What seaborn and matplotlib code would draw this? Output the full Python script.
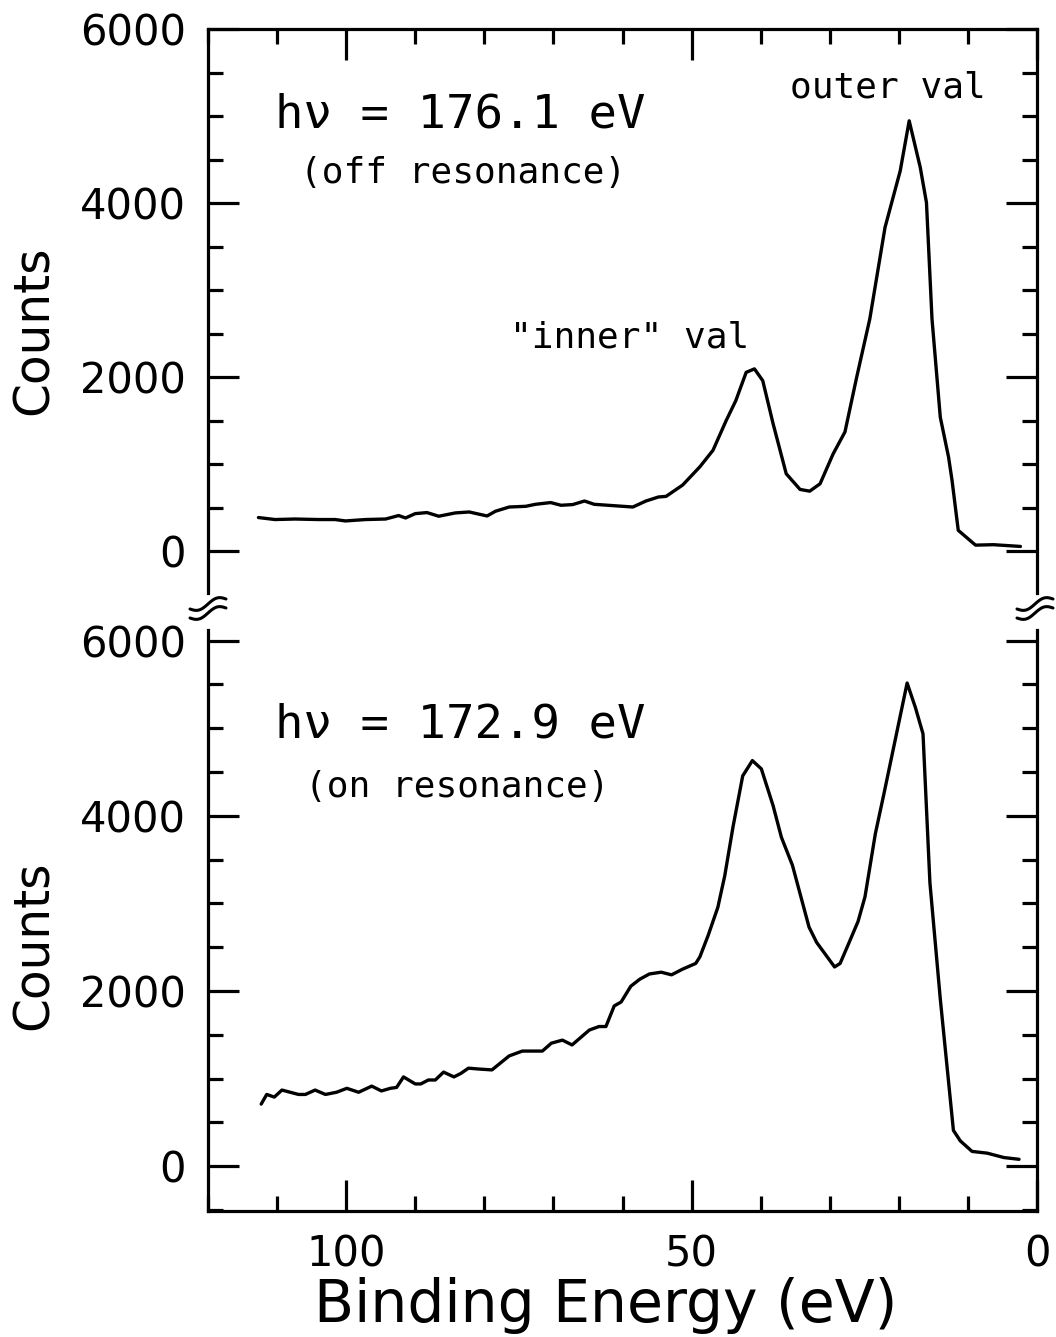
import numpy as np
import pandas as pd
import matplotlib
matplotlib.use("Agg")
import matplotlib.pyplot as plt
from matplotlib.lines import Line2D
from matplotlib.ticker import MultipleLocator, FixedLocator
import seaborn as sns

# ---- data ----
off_energy = [112.7, 110.3, 107.4, 104.0, 101.6, 100.1, 97.2, 94.3, 92.4, 91.4, 90.0, 88.3,
              86.6, 84.2, 82.2, 79.6, 78.4, 76.4, 74.0, 72.6, 70.4, 68.9, 67.2, 65.5, 64.1,
              61.4, 58.5, 56.6, 54.8, 53.7, 51.3, 48.8, 46.9, 45.0, 43.6, 42.1, 40.9, 39.7,
              38.2, 36.3, 34.3, 32.9, 31.4, 29.5, 27.8, 26.1, 24.2, 22.0, 19.8, 18.5, 16.9,
              16.0, 15.2, 14.0, 12.8, 12.3, 11.4, 8.9, 6.3, 2.4]
off_counts = [387, 364, 370, 364, 364, 348, 364, 370, 410, 382, 432, 444,
              402, 440, 451, 405, 459, 508, 516, 539, 559, 528, 536, 577, 539,
              524, 508, 577, 623, 630, 760, 970, 1160, 1500, 1730, 2055, 2095, 1960,
              1465, 890, 710, 690, 775, 1120, 1370, 2000, 2670, 3720, 4370, 4945, 4410,
              4005, 2670, 1540, 1080, 815, 240, 70, 75, 55]

on_energy = [112.3, 111.5, 110.4, 109.3, 106.9, 105.9, 104.5, 103.0, 101.4, 99.9, 98.2, 96.3,
             94.9, 93.6, 92.7, 91.7, 90.0, 89.2, 88.1, 87.1, 85.9, 84.4, 83.4, 82.3, 80.8,
             78.9, 76.4, 74.5, 71.6, 70.3, 68.7, 67.3, 64.8, 63.4, 62.4, 61.2, 60.2, 58.8,
             57.5, 56.1, 54.4, 52.9, 51.3, 49.4, 48.8, 47.6, 46.2, 45.2, 44.0, 42.6, 41.2,
             39.9, 38.2, 37.0, 35.4, 33.0, 31.9, 29.3, 28.5, 27.3, 25.9, 24.9, 23.4, 22.2,
             20.5, 18.8, 17.6, 16.5, 15.5, 14.0, 12.1, 11.1, 9.4, 7.2, 4.8, 2.6]
on_counts = [710, 820, 790, 870, 820, 820, 870, 820, 845, 890, 845, 915,
             860, 890, 900, 1020, 940, 940, 985, 985, 1075, 1020, 1060, 1120, 1110,
             1100, 1260, 1315, 1315, 1405, 1440, 1385, 1555, 1595, 1595, 1830, 1875, 2055,
             2135, 2195, 2215, 2185, 2250, 2315, 2390, 2635, 2955, 3315, 3875, 4455, 4630,
             4535, 4115, 3755, 3435, 2730, 2555, 2275, 2315, 2535, 2795, 3075, 3795, 4235,
             4875, 5515, 5235, 4935, 3235, 1910, 410, 290, 170, 150, 100, 80]

x_major = [0, 50, 100]
x_tick_labels = ["0", "50", "100"]
y_major = [0, 2000, 4000, 6000]
y_tick_labels = ["0", "2000", "4000", "6000"]

top_title = "h\u03bd = 176.1 eV"
top_sub = "(off resonance)"
bot_title = "h\u03bd = 172.9 eV"
bot_sub = "(on resonance)"
lab_outer = "outer val"
lab_inner = "\"inner\" val"

df_off = pd.DataFrame({"energy": off_energy, "counts": off_counts})
df_on = pd.DataFrame({"energy": on_energy, "counts": on_counts})

sns.set_style("white")
plt.rcParams["font.family"] = ["DejaVu Sans"]
plt.rcParams.update({"text.color": "black", "axes.labelcolor": "black",
                     "xtick.color": "black", "ytick.color": "black",
                     "axes.edgecolor": "black"})

W, H = 1056, 1337
fig = plt.figure(figsize=(W / 100, H / 100), dpi=100)

def fx(px):
    return px / W

def fy(py):
    return 1 - py / H

L, R = 208, 1037
ax1 = fig.add_axes([fx(L), fy(593), fx(R) - fx(L), fy(29) - fy(593)])
ax2 = fig.add_axes([fx(L), fy(1211), fx(R) - fx(L), fy(630) - fy(1211)])

lw = 2.4
sns.lineplot(data=df_off, x="energy", y="counts", ax=ax1, color="black", linewidth=lw,
             estimator=None, sort=False)
sns.lineplot(data=df_on, x="energy", y="counts", ax=ax2, color="black", linewidth=lw,
             estimator=None, sort=False)

ax1.set_ylim(-480, 6000)
ax2.set_ylim(-510, 6120)

for ax in (ax1, ax2):
    ax.set_xlim(120, 0)
    ax.xaxis.set_major_locator(FixedLocator(x_major))
    ax.xaxis.set_minor_locator(MultipleLocator(10))
    ax.yaxis.set_major_locator(FixedLocator(y_major))
    ax.yaxis.set_minor_locator(MultipleLocator(500))
    ax.set_yticklabels(y_tick_labels)
    for s in ax.spines.values():
        s.set_linewidth(2.3)
        s.set_color("black")
    ax.tick_params(axis="both", which="major", direction="in", length=22, width=2.3,
                   labelsize=30, pad=16, color="black", labelcolor="black")
    ax.tick_params(axis="both", which="minor", direction="in", length=11, width=2.3,
                   color="black")
    ax.tick_params(axis="y", which="both", left=True, right=True, labelleft=True,
                   labelright=False)
    ax.set_facecolor("white")
    ax.set_ylabel("Counts", fontsize=35, color="black")

ax1.spines["bottom"].set_visible(False)
ax1.tick_params(axis="x", which="both", top=True, bottom=False, labelbottom=False,
                labeltop=False)
ax1.set_xlabel("")

ax2.spines["top"].set_visible(False)
ax2.tick_params(axis="x", which="both", top=False, bottom=True, labelbottom=True)
ax2.set_xticklabels(x_tick_labels)
ax2.set_xlabel("Binding Energy (eV)", fontsize=42, color="black")
ax2.xaxis.label.set_va("baseline")
ax2.xaxis.set_label_coords((606 - L) / (R - L), (1211 - 1322) / (1211 - 630))

ax1.yaxis.label.set_va("bottom")
ax1.yaxis.set_label_coords((58 - L) / (R - L), (593 - 330) / (593 - 29))
ax2.yaxis.label.set_va("bottom")
ax2.yaxis.set_label_coords((58 - L) / (R - L), (1211 - 945) / (1211 - 630))

mono = ["DejaVu Sans Mono"]
kw = dict(family=mono, va="center", ha="left", color="black")
fig.text(fx(275), fy(115), top_title, fontsize=34, **kw)
fig.text(fx(300), fy(173), top_sub, fontsize=26, **kw)
fig.text(fx(790), fy(88), lab_outer, fontsize=26, **kw)
fig.text(fx(510), fy(338), lab_inner, fontsize=26, **kw)
fig.text(fx(275), fy(725), bot_title, fontsize=34, **kw)
fig.text(fx(305), fy(787), bot_sub, fontsize=26, **kw)

# axis-break marks (decoration)
t = np.linspace(-1, 1, 40)
for xc in (208, 1035):
    for yc in (604, 613):
        xs = xc + 18 * t
        ys = yc - 5 * t - 3.5 * np.sin(np.pi * t)
        fig.add_artist(Line2D(fx(xs), fy(ys), color="black", linewidth=2.2,
                              transform=fig.transFigure))

fig.savefig("out.png", dpi=100, facecolor="white")
